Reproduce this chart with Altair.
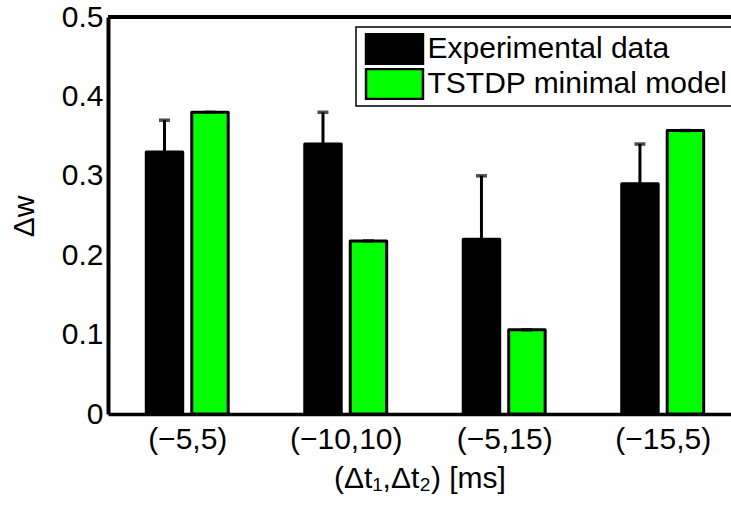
import json
import altair as alt
import pandas as pd

# Spike-pair timings (Δt1, Δt2) in ms
categories = ["(−5,5)", "(−10,10)", "(−5,15)", "(−15,5)"]
series_names = ["Experimental data", "TSTDP minimal model"]

experimental = [0.33, 0.34, 0.22, 0.29]
experimental_err = [0.04, 0.04, 0.08, 0.05]
model = [0.38, 0.218, 0.106, 0.357]
model_err = [0.0, 0.0, 0.0, 0.0]

rows = []
for i, cat in enumerate(categories):
    rows.append({"idx": i + 1, "cat": cat, "series": series_names[0],
                 "value": experimental[i], "err": experimental_err[i]})
    rows.append({"idx": i + 1, "cat": cat, "series": series_names[1],
                 "value": model[i], "err": model_err[i]})
df = pd.DataFrame(rows)

FONT = "Liberation Sans"
W, H = 623, 397

label_expr = "%s[datum.value - 1]" % json.dumps(categories, ensure_ascii=False)

x_scale = alt.Scale(domain=[0.5, 4.431], nice=False, zero=False)
y_scale = alt.Scale(domain=[0, 0.5], nice=False)

base = alt.Chart(df).transform_calculate(
    xc="datum.idx + (datum.series == '%s' ? -0.1435 : 0.1435)" % series_names[0],
    xl="datum.xc - 0.115",
    xr="datum.xc + 0.115",
    top="datum.value + datum.err",
)

bars = base.mark_bar(stroke="black", strokeWidth=3, strokeJoin="round").encode(
    x=alt.X("xl:Q", scale=x_scale,
            axis=alt.Axis(values=[1, 2, 3, 4], labelExpr=label_expr,
                          title="(Δt₁,Δt₂) [ms]")),
    x2="xr:Q",
    y=alt.Y("value:Q", scale=y_scale,
            axis=alt.Axis(values=[0, 0.1, 0.2, 0.3, 0.4, 0.5],
                          labelExpr="datum.value == 0 ? '0' : format(datum.value, '.1f')",
                          title="Δw", titleX=-84, titleY=199,
                          titleBaseline="middle", titleAngle=270)),
    y2=alt.datum(0),
    fill=alt.Fill("series:N",
                  scale=alt.Scale(domain=series_names, range=["#000000", "#00ff00"]),
                  legend=alt.Legend(
                      orient="none", legendX=248, legendY=10, title=None,
                      padding=6, rowPadding=3, clipHeight=32,
                      strokeColor="black", fillColor="white",
                      symbolType="M-2.19,-1.154H2.19V1.154H-2.19Z",
                      symbolSize=676, symbolStrokeColor="black",
                      symbolStrokeWidth=2.5, symbolOpacity=1,
                      symbolOffset=17.5, labelOffset=18,
                      labelFont=FONT, labelFontSize=30, labelColor="black",
                      labelLimit=500)),
)

err_lines = base.mark_rule(color="black", strokeWidth=3).encode(
    x="xc:Q", y="value:Q", y2="top:Q")

err_caps = base.mark_tick(color="black", orient="horizontal", size=11,
                          thickness=3.5).encode(x="xc:Q", y="top:Q")

top_border = alt.Chart(df).mark_rule(color="black", strokeWidth=3.5).encode(
    y=alt.datum(0.5))

chart = alt.layer(err_lines, bars, err_caps, top_border).properties(
    width=W, height=H,
    background="white",
    autosize=alt.AutoSizeParams(type="none"),
    padding={"left": 108, "top": 17, "right": 0, "bottom": 92},
).configure_view(stroke=None).configure_axis(
    grid=False, ticks=False,
    domainColor="black",
    labelFont=FONT, labelFontSize=30, labelColor="black",
    titleFont=FONT, titleFontSize=30, titleColor="black", titleFontWeight="normal",
).configure_axisY(
    domainWidth=4, labelPadding=5,
).configure_axisX(
    domainWidth=3.5, labelPadding=10, titlePadding=9,
).configure_legend(
    strokeWidth=1.5,
)

chart.save("out.html", embed_options={"renderer": "svg", "actions": False})
